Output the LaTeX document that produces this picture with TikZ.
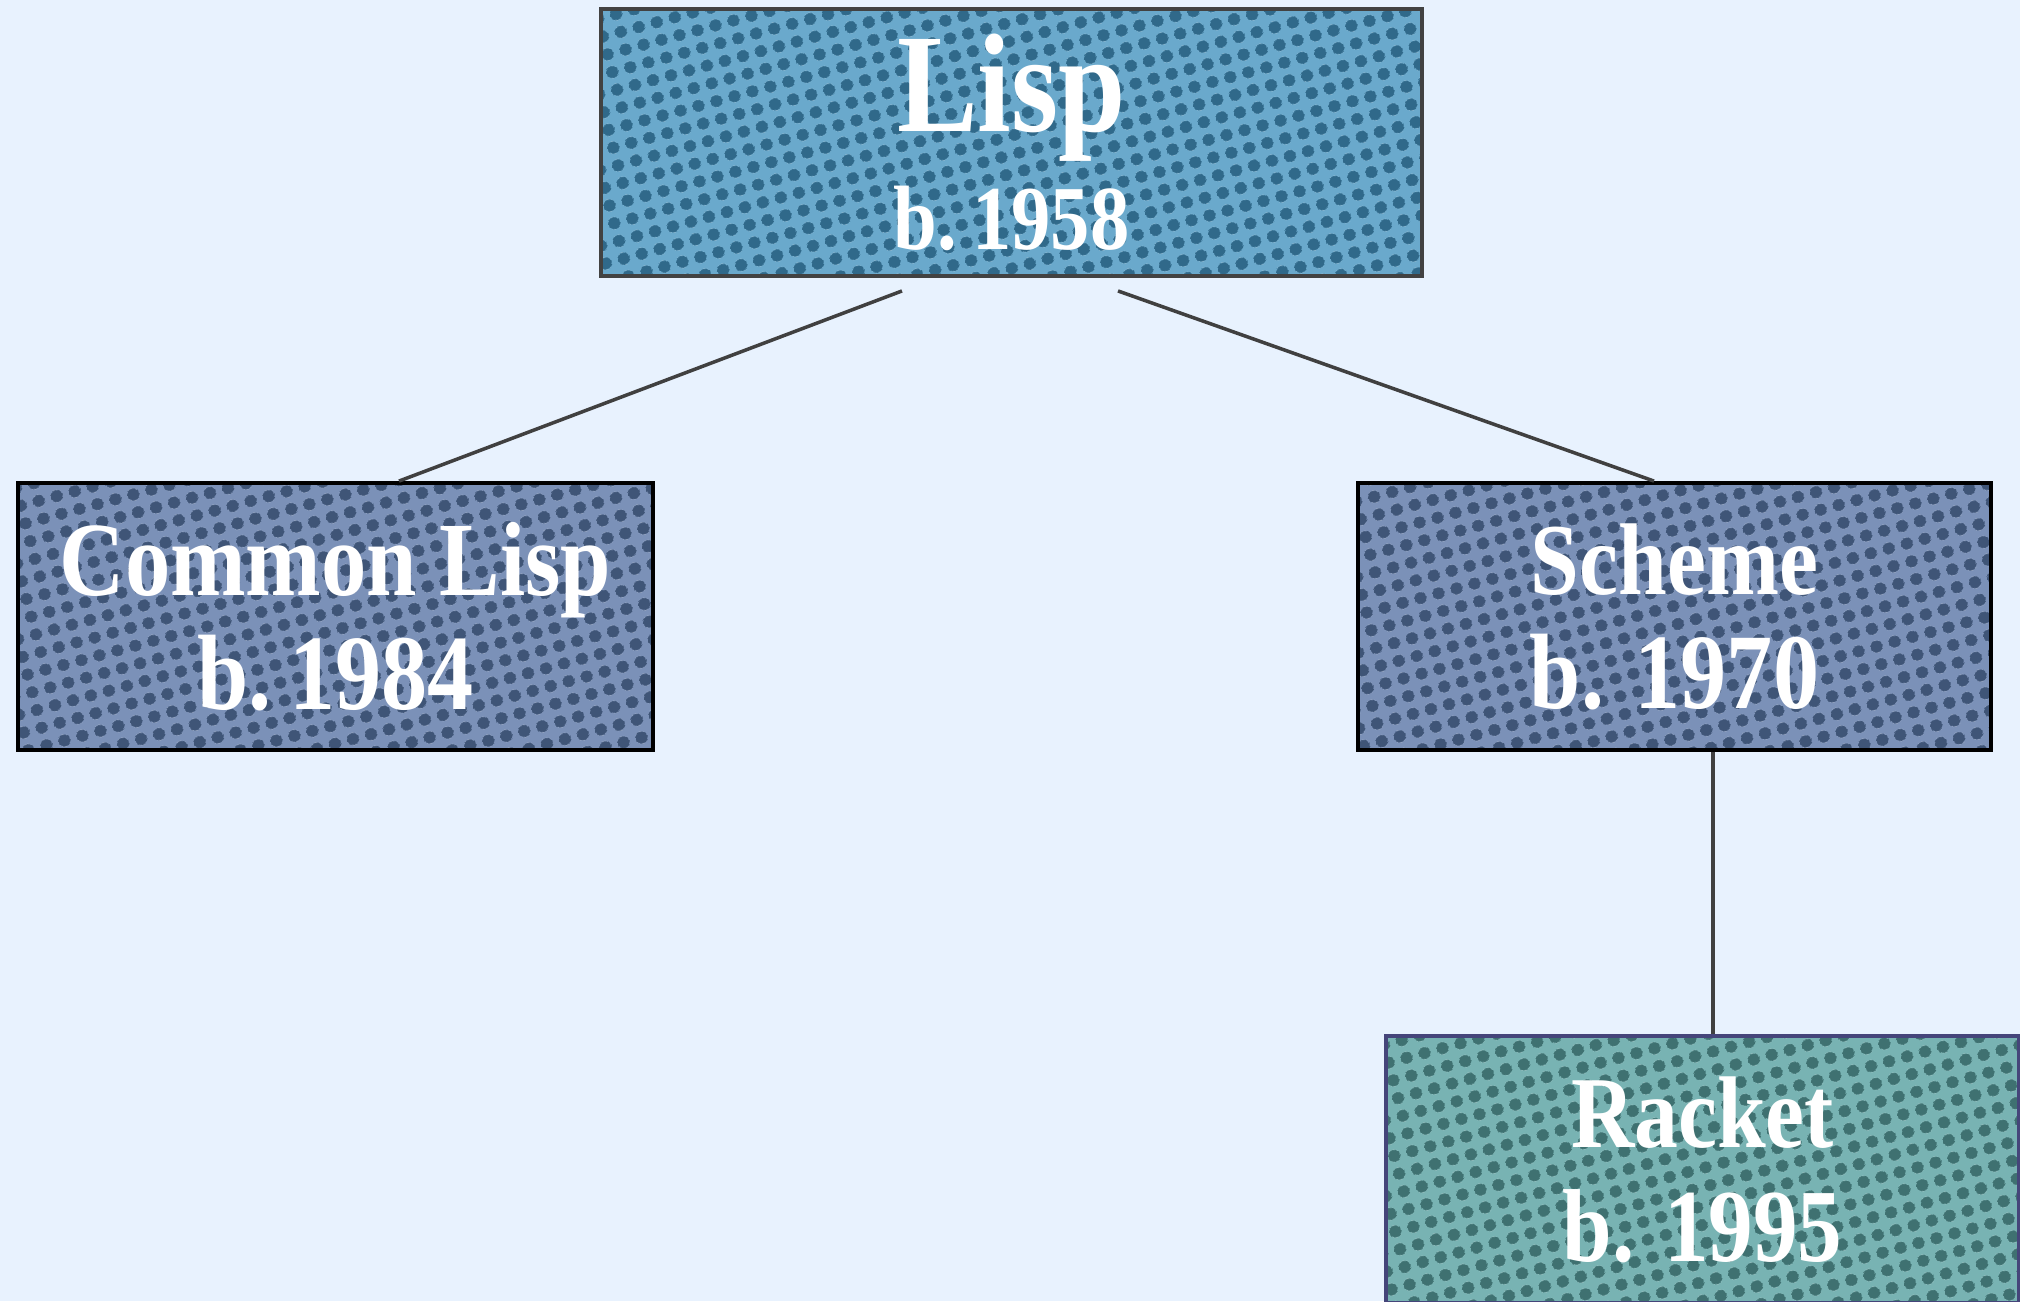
\documentclass[tikz,border=0pt]{standalone}
\usepackage{fontspec}
\newfontfamily\boxfont{Liberation Serif}[FakeStretch=0.86]
\usetikzlibrary{patterns.meta}

\definecolor{pagebg}{HTML}{E8F2FE}
\definecolor{lispfill}{HTML}{6AA9CC}
\definecolor{lispdots}{HTML}{30698A}
\definecolor{dialectfill}{HTML}{7B91B8}
\definecolor{dialectdots}{HTML}{3F5577}
\definecolor{racketfill}{HTML}{78B3B3}
\definecolor{racketdots}{HTML}{3F7171}
\definecolor{racketedge}{HTML}{45457A}
\definecolor{linkgray}{HTML}{404040}

\begin{document}
\begin{tikzpicture}[langbox/.style={rectangle, inner sep=0pt, align=center,
                                    minimum width=6.33cm, minimum height=2.67cm,
                                    text=white, line width=1.1pt,
                                    font=\boxfont\bfseries\fontsize{28}{32.4}\selectfont},
                    halftone/.style 2 args={preaction={fill=#1},
                                    pattern={Dots[distance=5.4pt, radius=1.8pt, angle=15]},
                                    pattern color=#2},
                    link/.style={draw=linkgray, line width=1pt}]
  \useasboundingbox [fill=pagebg] (0, 0) rectangle (20.2, -13.01);

  % Languages.
  \node at (10.115, -1.425) [langbox, minimum width=8.21cm, draw=black!74,
                             font=\boxfont\bfseries\fontsize{28}{33.6}\selectfont,
                             halftone={lispfill}{lispdots}, name=Lisp]
        {\fontsize{40}{33.6}\selectfont Lisp\\
         \fontsize{26}{33.6}\selectfont b.\,1958};
  \node at (3.355, -6.165) [langbox, minimum width=6.35cm, draw=black,
                            halftone={dialectfill}{dialectdots}, name=CommonLisp]
        {\fontsize{30}{32.4}\selectfont Common Lisp\\
         \fontsize{30.5}{32.4}\selectfont b.\,1984};
  \node at (16.745, -6.165) [langbox, draw=black,
                             halftone={dialectfill}{dialectdots}, name=Scheme]
        {\fontsize{29}{32.4}\selectfont Scheme\\
         \fontsize{30.5}{32.4}\selectfont b. 1970};
  \node at (17.025, -11.695) [langbox, draw=racketedge,
                              halftone={racketfill}{racketdots}, name=Racket]
        {\fontsize{29}{32.4}\selectfont Racket\\
         \fontsize{29.5}{32.4}\selectfont b. 1995};

  % Descent.
  \draw [link] ([xshift=-1.095cm, yshift=-0.13cm]Lisp.south)
               to ([xshift=0.635cm]CommonLisp.north);
  \draw [link] ([xshift=1.065cm, yshift=-0.13cm]Lisp.south)
               to ([xshift=-0.205cm]Scheme.north);
  \draw [link] ([xshift=0.385cm]Scheme.south)
               to ([xshift=0.105cm]Racket.north);
\end{tikzpicture}
\end{document}
